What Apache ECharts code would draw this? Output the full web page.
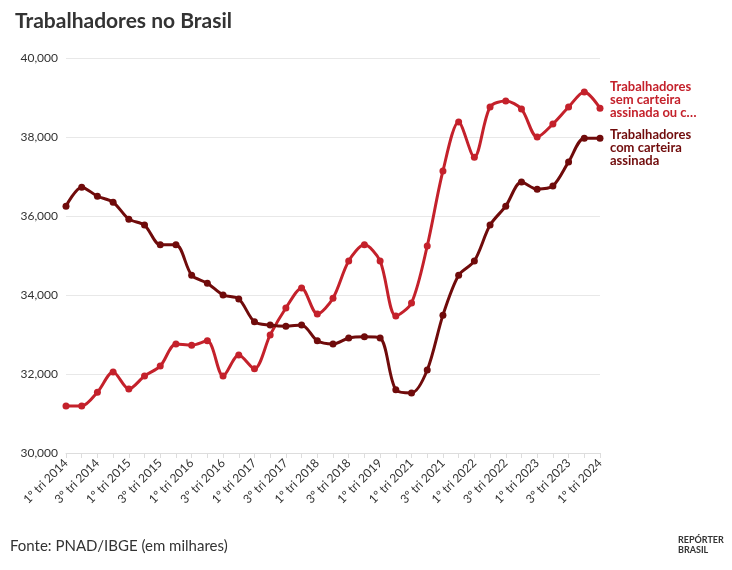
<!DOCTYPE html>
<html>
<head>
<meta charset="utf-8">
<script src="https://cdn.jsdelivr.net/npm/echarts@6/dist/echarts.min.js"></script>
<style>
body { margin: 0; background: #fff; }
#chart { width: 732px; height: 570px; }
</style>
</head>
<body>
<div id="chart"></div>
<script>
// trimestres (o ponto entre 1º tri 2019 e 1º tri 2021 não tem rótulo visível)
const quarters = [
    '1º tri 2014', '2º tri 2014', '3º tri 2014', '4º tri 2014',
    '1º tri 2015', '2º tri 2015', '3º tri 2015', '4º tri 2015',
    '1º tri 2016', '2º tri 2016', '3º tri 2016', '4º tri 2016',
    '1º tri 2017', '2º tri 2017', '3º tri 2017', '4º tri 2017',
    '1º tri 2018', '2º tri 2018', '3º tri 2018', '4º tri 2018',
    '1º tri 2019', '3º tri 2020',
    '1º tri 2021', '2º tri 2021', '3º tri 2021', '4º tri 2021',
    '1º tri 2022', '2º tri 2022', '3º tri 2022', '4º tri 2022',
    '1º tri 2023', '2º tri 2023', '3º tri 2023', '4º tri 2023',
    '1º tri 2024'
];

// em milhares
const semCarteira = [
    31190, 31190, 31540, 32050, 31620, 31950, 32200, 32760, 32730, 32840,
    31950, 32480, 32130, 32990, 33670, 34180, 33520, 33920, 34860, 35270,
    34860, 33470, 33800, 35240, 37140, 38380, 37490, 38760, 38910, 38710,
    38000, 38330, 38760, 39140, 38730
];
const comCarteira = [
    36250, 36730, 36500, 36350, 35920, 35770, 35270, 35270, 34500, 34300,
    34000, 33900, 33320, 33240, 33210, 33240, 32840, 32760, 32910, 32940,
    32910, 31600, 31520, 32100, 33490, 34500, 34860, 35770, 36250, 36860,
    36680, 36760, 37370, 37970, 37970
];

const yTicks = { min: 30000, max: 40000, interval: 2000 };

const chart = echarts.init(document.getElementById('chart'));
const font = 'Lato';

function lineSeries(name, data, color, label, dy) {
    return {
        name: name,
        type: 'line',
        data: data,
        smooth: 0.3,
        symbol: 'circle',
        symbolSize: 7,
        lineStyle: { color: color, width: 3 },
        itemStyle: { color: color },
        endLabel: {
            show: true,
            formatter: label,
            color: color,
            fontFamily: font,
            fontWeight: 'bold',
            fontSize: 13,
            lineHeight: 13,
            distance: 10,
            offset: [0, dy]
        }
    };
}

chart.setOption({
    animation: false,
    title: {
        text: 'Trabalhadores no Brasil',
        left: 10, top: 6,
        textStyle: { fontFamily: font, fontSize: 21, fontWeight: 'bold', color: '#333' }
    },
    graphic: [
        { type: 'text', left: 10, top: 539,
          style: { text: 'Fonte: PNAD/IBGE (em milhares)', font: '15px Lato', fill: '#333' } },
        { type: 'text', left: 678, top: 535,
          style: { text: 'REPÓRTER\nBRASIL', font: 'bold 9px Lato', fill: '#333', lineHeight: 10 } }
    ],
    grid: { left: 66, right: 132, top: 58, bottom: 117 },
    xAxis: {
        type: 'category',
        data: quarters,
        boundaryGap: false,
        axisLine: { lineStyle: { color: '#ddd' } },
        axisTick: { show: true, interval: 0, lineStyle: { color: '#ddd' } },
        axisLabel: {
            interval: 1, rotate: 45, fontFamily: font, fontSize: 12, color: '#333'
        }
    },
    yAxis: {
        type: 'value',
        min: yTicks.min, max: yTicks.max, interval: yTicks.interval,
        axisLine: { show: false },
        axisTick: { show: false },
        splitLine: { lineStyle: { color: '#e8e8e8' } },
        axisLabel: {
            fontFamily: font, fontSize: 12, color: '#333',
            formatter: v => v.toLocaleString('en-US')
        }
    },
    series: [
        lineSeries('Trabalhadores sem carteira assinada', semCarteira, '#c4212b',
            'Trabalhadores\nsem carteira\nassinada ou c…', -8),
        lineSeries('Trabalhadores com carteira assinada', comCarteira, '#700b0b',
            'Trabalhadores\ncom carteira\nassinada', 10)
    ]
});
</script>
</body>
</html>
